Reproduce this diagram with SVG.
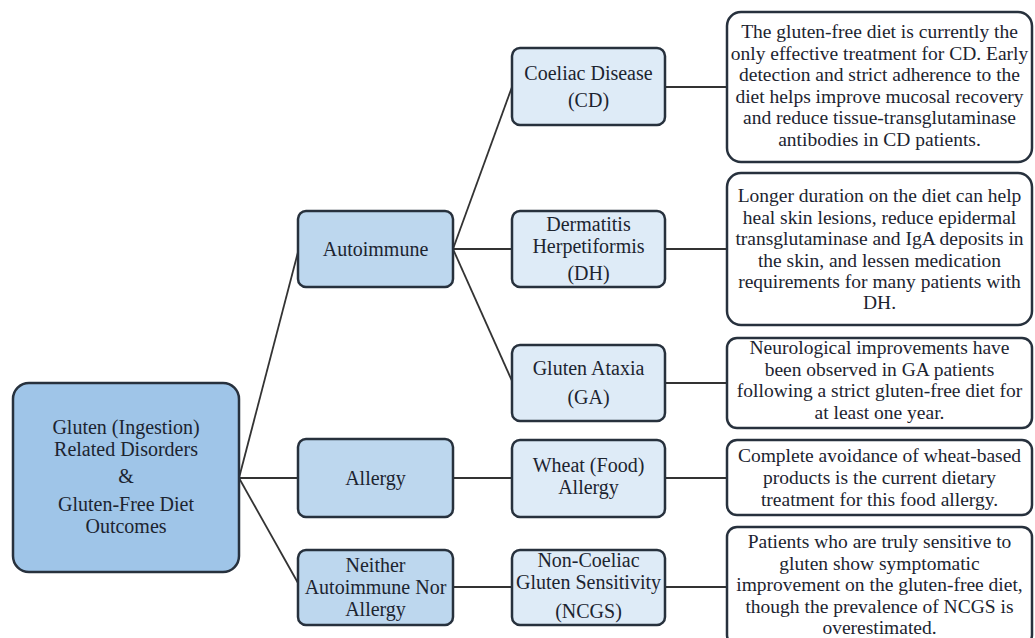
<svg xmlns="http://www.w3.org/2000/svg" width="1035" height="638" viewBox="0 0 1035 638">
<style>
.root{fill:#9fc5e8;stroke:#27313d;stroke-width:2.5}
.mid{fill:#bdd7ee;stroke:#27313d;stroke-width:2.5}
.leaf{fill:#deebf7;stroke:#27313d;stroke-width:2.5}
.note{fill:#ffffff;stroke:#27313d;stroke-width:2.5}
.conn{stroke:#333;stroke-width:1.8;fill:none}
text{font-family:"Liberation Serif","Times New Roman",serif;fill:#1c2430;text-anchor:middle}
.t1{font-size:20px}
.t2{font-size:19.5px}
</style>
<rect width="1035" height="638" fill="#ffffff"/>
<g id="connectors">
<line class="conn" x1="239" y1="478" x2="298" y2="252"/>
<line class="conn" x1="239" y1="478" x2="298" y2="478"/>
<line class="conn" x1="239" y1="478" x2="298" y2="583"/>
<line class="conn" x1="453" y1="249" x2="512" y2="87"/>
<line class="conn" x1="453" y1="249" x2="512" y2="249"/>
<line class="conn" x1="453" y1="249" x2="512" y2="381"/>
<line class="conn" x1="453" y1="478" x2="512" y2="478"/>
<line class="conn" x1="453" y1="587" x2="512" y2="587"/>
<line class="conn" x1="665" y1="87" x2="727" y2="87"/>
<line class="conn" x1="665" y1="249" x2="727" y2="249"/>
<line class="conn" x1="665" y1="383" x2="727" y2="383"/>
<line class="conn" x1="665" y1="478" x2="727" y2="478"/>
<line class="conn" x1="665" y1="587" x2="727" y2="587"/>
</g>
<g id="root">
<rect class="root" x="13" y="383" width="226" height="189" rx="16"/>
<text class="t1" x="126" y="434">Gluten (Ingestion)</text>
<text class="t1" x="126" y="456">Related Disorders</text>
<text class="t1" x="126" y="483">&amp;</text>
<text class="t1" x="126" y="511">Gluten-Free Diet</text>
<text class="t1" x="126" y="533">Outcomes</text>
</g>
<g id="autoimmune">
<rect class="mid" x="298" y="211" width="155" height="76" rx="8"/>
<text class="t1" x="375.5" y="256">Autoimmune</text>
</g>
<g id="allergy">
<rect class="mid" x="298" y="439" width="155" height="78" rx="8"/>
<text class="t1" x="375.5" y="485">Allergy</text>
</g>
<g id="neither">
<rect class="mid" x="298" y="550" width="155" height="75" rx="8"/>
<text class="t1" x="375.5" y="572">Neither</text>
<text class="t1" x="375.5" y="594">Autoimmune Nor</text>
<text class="t1" x="375.5" y="616">Allergy</text>
</g>
<g id="cd">
<rect class="leaf" x="512" y="48" width="153" height="77" rx="8"/>
<text class="t1" x="588.5" y="80">Coeliac Disease</text>
<text class="t1" x="588.5" y="107">(CD)</text>
</g>
<g id="dh">
<rect class="leaf" x="512" y="211" width="153" height="76" rx="8"/>
<text class="t1" x="588.5" y="231">Dermatitis</text>
<text class="t1" x="588.5" y="253">Herpetiformis</text>
<text class="t1" x="588.5" y="280">(DH)</text>
</g>
<g id="ga">
<rect class="leaf" x="512" y="345" width="153" height="76" rx="8"/>
<text class="t1" x="588.5" y="375">Gluten Ataxia</text>
<text class="t1" x="588.5" y="404">(GA)</text>
</g>
<g id="wheat">
<rect class="leaf" x="512" y="440" width="153" height="77" rx="8"/>
<text class="t1" x="588.5" y="472">Wheat (Food)</text>
<text class="t1" x="588.5" y="494">Allergy</text>
</g>
<g id="ncgs">
<rect class="leaf" x="512" y="550" width="153" height="75" rx="8"/>
<text class="t1" x="588.5" y="567">Non-Coeliac</text>
<text class="t1" x="588.5" y="589">Gluten Sensitivity</text>
<text class="t1" x="588.5" y="618">(NCGS)</text>
</g>
<g id="note-cd">
<rect class="note" x="727" y="12" width="305" height="150" rx="14"/>
<text class="t2" x="879.5" y="38">The gluten-free diet is currently the</text>
<text class="t2" x="879.5" y="59.5">only effective treatment for CD. Early</text>
<text class="t2" x="879.5" y="81">detection and strict adherence to the</text>
<text class="t2" x="879.5" y="102.5">diet helps improve mucosal recovery</text>
<text class="t2" x="879.5" y="124">and reduce tissue-transglutaminase</text>
<text class="t2" x="879.5" y="145.5">antibodies in CD patients.</text>
</g>
<g id="note-dh">
<rect class="note" x="727" y="173" width="305" height="152" rx="14"/>
<text class="t2" x="879.5" y="202">Longer duration on the diet can help</text>
<text class="t2" x="879.5" y="223.5">heal skin lesions, reduce epidermal</text>
<text class="t2" x="879.5" y="245">transglutaminase and IgA deposits in</text>
<text class="t2" x="879.5" y="266.5">the skin, and lessen medication</text>
<text class="t2" x="879.5" y="288">requirements for many patients with</text>
<text class="t2" x="879.5" y="309">DH.</text>
</g>
<g id="note-ga">
<rect class="note" x="727" y="338" width="305" height="90" rx="10"/>
<text class="t2" x="879.5" y="354">Neurological improvements have</text>
<text class="t2" x="879.5" y="375.5">been observed in GA patients</text>
<text class="t2" x="879.5" y="397">following a strict gluten-free diet for</text>
<text class="t2" x="879.5" y="418.5">at least one year.</text>
</g>
<g id="note-wheat">
<rect class="note" x="727" y="440" width="305" height="75" rx="10"/>
<text class="t2" x="879.5" y="462">Complete avoidance of wheat-based</text>
<text class="t2" x="879.5" y="484">products is the current dietary</text>
<text class="t2" x="879.5" y="506">treatment for this food allergy.</text>
</g>
<g id="note-ncgs">
<rect class="note" x="727" y="527" width="305" height="118" rx="10"/>
<text class="t2" x="879.5" y="548">Patients who are truly sensitive to</text>
<text class="t2" x="879.5" y="570">gluten show symptomatic</text>
<text class="t2" x="879.5" y="591">improvement on the gluten-free diet,</text>
<text class="t2" x="879.5" y="613">though the prevalence of NCGS is</text>
<text class="t2" x="879.5" y="634">overestimated.</text>
</g>
</svg>
